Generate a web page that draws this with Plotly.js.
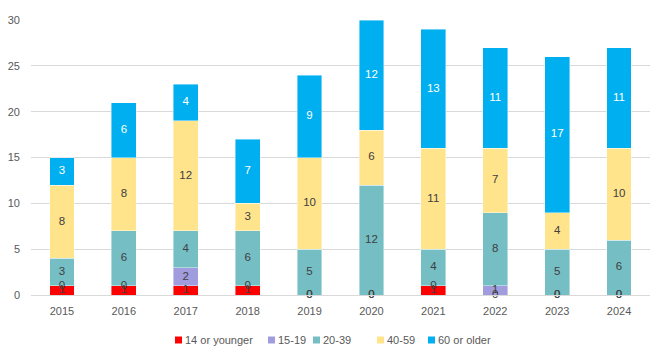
<!DOCTYPE html>
<html>
<head>
<meta charset="utf-8">
<script src="https://cdn.plot.ly/plotly-3.0.1.min.js"></script>
<style>html,body{margin:0;padding:0;background:#fff;}#chart{width:650px;height:355px;}</style>
</head>
<body>
<div id="chart"></div>
<script>
const years = ['2015','2016','2017','2018','2019','2020','2021','2022','2023','2024'];
const seriesNames = ['14 or younger','15-19','20-39','40-59','60 or older'];
const under15 = [1,1,1,1,0,0,1,0,0,0];
const age15to19 = [0,0,2,0,0,0,0,1,0,0];
const age20to39 = [3,6,4,6,5,12,4,8,5,6];
const age40to59 = [8,8,12,3,10,6,11,7,4,10];
const age60plus = [3,6,4,7,9,12,13,11,17,11];
const colors = ['#FF0000','#A09CDE','#74BEC4','#FFE48C','#00AFEF'];
const labelColors = ['#404040','#404040','#404040','#404040','#FFFFFF'];

const allSeries = [under15, age15to19, age20to39, age40to59, age60plus];
const font = '"Liberation Sans", Arial, sans-serif';

const traces = [];
allSeries.forEach((vals, i) => {
  traces.push({
    type: 'bar', x: years, y: vals, name: seriesNames[i],
    marker: {color: colors[i], line: {color: 'rgba(255,255,255,0.7)', width: 0.6}},
    hoverinfo: 'skip', showlegend: false
  });
});
// data labels at segment centres
const base = years.map(() => 0);
const labelTraces = [];
allSeries.forEach((vals, i) => {
  const ys = vals.map((v, j) => base[j] + v / 2);
  vals.forEach((v, j) => { base[j] += v; });
  labelTraces.push({
    type: 'scatter', mode: 'text', x: years, y: ys,
    text: vals.map(String), textposition: 'middle center',
    textfont: {family: font, size: 11.5, color: labelColors[i]},
    showlegend: false, hoverinfo: 'skip', cliponaxis: false
  });
});

// compact legend (small square directly followed by text), as in the reference
const legendSquarePx = [175, 268, 313, 377, 428];
const plotLeft = 31, plotWidth = 619, plotBottom = 295, plotHeight = 275;
const legendCenterPx = 340;
const px2x = p => (p - plotLeft) / plotWidth;
const px2y = p => (plotBottom - p) / plotHeight;
const shapes = seriesNames.map((n, i) => ({
  type: 'rect', xref: 'paper', yref: 'paper',
  x0: px2x(legendSquarePx[i]), x1: px2x(legendSquarePx[i] + 7),
  y0: px2y(legendCenterPx + 3.5), y1: px2y(legendCenterPx - 3.5),
  fillcolor: colors[i], line: {width: 0}
}));
const annotations = seriesNames.map((n, i) => ({
  xref: 'paper', yref: 'paper',
  x: px2x(legendSquarePx[i] + 8), xanchor: 'left',
  y: px2y(legendCenterPx), yanchor: 'middle', showarrow: false,
  text: n, font: {family: font, size: 11, color: '#595959'}
}));

const layout = {
  width: 650, height: 355,
  margin: {l: 31, r: 0, t: 20, b: 60},
  paper_bgcolor: '#fff', plot_bgcolor: '#fff',
  barmode: 'stack', bargap: 0.6,
  font: {family: font, size: 11, color: '#595959'},
  xaxis: {type: 'category', showgrid: false, showline: true, linecolor: '#D9D9D9', linewidth: 1,
          ticks: '', ticklabelstandoff: 6, tickfont: {size: 11, color: '#595959'}, fixedrange: true},
  yaxis: {range: [0, 30], dtick: 5, showgrid: true, gridcolor: '#D9D9D9', gridwidth: 1,
          zeroline: false, showline: false, ticks: '', ticklabelstandoff: 10,
          tickfont: {size: 11, color: '#595959'}, fixedrange: true},
  showlegend: false,
  shapes: shapes,
  annotations: annotations
};

Plotly.newPlot('chart', traces.concat(labelTraces), layout, {displayModeBar: false, staticPlot: true});
</script>
</body>
</html>
